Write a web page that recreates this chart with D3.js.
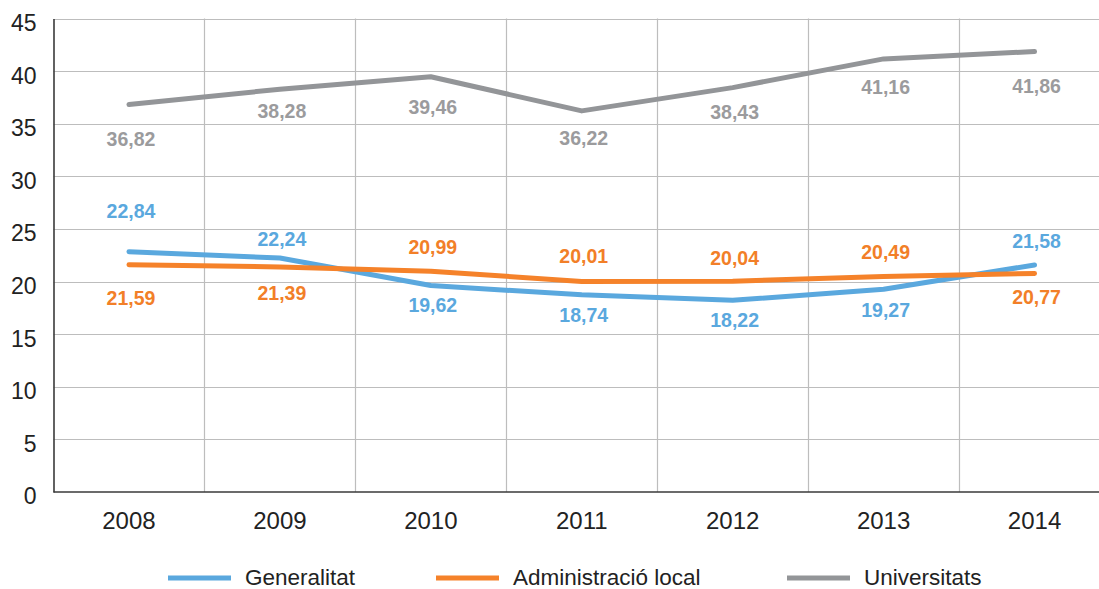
<!DOCTYPE html>
<html>
<head>
<meta charset="utf-8">
<script src="https://cdn.jsdelivr.net/npm/d3@7/dist/d3.min.js"></script>
<style>
  html, body { margin: 0; padding: 0; background: #fff; }
  svg { display: block; font-family: "Liberation Sans", Arial, Helvetica, sans-serif; }
</style>
</head>
<body>
<svg id="chart" width="1099" height="589"></svg>
<script>
// Years on the category axis
const years = ["2008", "2009", "2010", "2011", "2012", "2013", "2014"];

// Series values (percent)
const generalitat = [22.84, 22.24, 19.62, 18.74, 18.22, 19.27, 21.58];
const administracioLocal = [21.59, 21.39, 20.99, 20.01, 20.04, 20.49, 20.77];
const universitats = [36.82, 38.28, 39.46, 36.22, 38.43, 41.16, 41.86];

// Y axis ticks
const yTicks = [0, 5, 10, 15, 20, 25, 30, 35, 40, 45];

// Vertical offset of each value label from its point (px)
const labelOffsets = {
  generalitat: [-41, -19, 19, 20, 20, 21, -24],
  administracioLocal: [33, 26, -24, -25, -23, -24, 24],
  universitats: [34, 22, 30, 27, 24, 28, 34]
};

const series = [
  { key: "generalitat", name: "Generalitat", values: generalitat, color: "#5aa8de", text: "#5aa8de" },
  { key: "administracioLocal", name: "Administració local", values: administracioLocal, color: "#f5822a", text: "#f27f28" },
  { key: "universitats", name: "Universitats", values: universitats, color: "#939598", text: "#9b9b9d" }
];

const svg = d3.select("#chart");

const x = d3.scaleBand().domain(years).range([53.5, 1110]).paddingInner(0).paddingOuter(0);
const y = d3.scaleLinear().domain([0, 45]).range([492, 18.5]);
const cx = d => x(d) + x.bandwidth() / 2;

// Horizontal grid
svg.append("g")
  .selectAll("line")
  .data(yTicks.filter(t => t > 0))
  .join("line")
  .attr("x1", 53.5).attr("x2", 1099)
  .attr("y1", d => Math.round(y(d)) + 0.5).attr("y2", d => Math.round(y(d)) + 0.5)
  .attr("stroke", "#bdbdbd").attr("stroke-width", 1.2);

// Vertical grid at the category boundaries
svg.append("g")
  .selectAll("line")
  .data(years.slice(1))
  .join("line")
  .attr("x1", d => Math.round(x(d)) + 0.5).attr("x2", d => Math.round(x(d)) + 0.5)
  .attr("y1", y(45)).attr("y2", y(0))
  .attr("stroke", "#bdbdbd").attr("stroke-width", 1.2);

// Y axis
const yAxis = svg.append("g")
  .attr("transform", "translate(53.5,0)")
  .call(d3.axisLeft(y).tickValues(yTicks).tickSize(0).tickPadding(17).tickFormat(d3.format("d")));
yAxis.select(".domain").attr("stroke", "#3a3a3a").attr("stroke-width", 1.6);
yAxis.selectAll("text")
  .attr("fill", "#222").attr("font-size", 23).attr("dy", "0.52em")
  .attr("font-family", "\"Liberation Sans\", Arial, sans-serif");

// X axis
const xAxis = svg.append("g")
  .attr("transform", "translate(0,492)")
  .call(d3.axisBottom(x).tickSize(0).tickPadding(20));
xAxis.select(".domain").attr("stroke", "#3a3a3a").attr("stroke-width", 1.6).attr("d", "M53.5,0H1099");
xAxis.selectAll("text")
  .attr("fill", "#222").attr("font-size", 24)
  .attr("font-family", "\"Liberation Sans\", Arial, sans-serif");

// Lines
const line = d3.line()
  .x((d, i) => cx(years[i]))
  .y(d => y(d))
  .curve(d3.curveLinear);

svg.append("g")
  .selectAll("path")
  .data(series)
  .join("path")
  .attr("d", s => line(s.values))
  .attr("fill", "none")
  .attr("stroke", s => s.color)
  .attr("stroke-width", 5)
  .attr("stroke-linecap", "round")
  .attr("stroke-linejoin", "round");

// Value labels
const fmt = v => d3.format(".2f")(v).replace(".", ",");
series.forEach(s => {
  svg.append("g")
    .selectAll("text")
    .data(s.values)
    .join("text")
    .attr("x", (d, i) => cx(years[i]) + 2)
    .attr("y", (d, i) => y(d) + labelOffsets[s.key][i])
    .attr("dy", "0.36em")
    .attr("text-anchor", "middle")
    .attr("font-size", 19.5)
    .attr("font-weight", "bold")
    .attr("fill", s.text)
    .text(d => fmt(d));
});

// Legend
const legendX = [168, 436, 787];
const legend = svg.append("g")
  .selectAll("g")
  .data(series)
  .join("g")
  .attr("transform", (s, i) => `translate(${legendX[i]},576)`);
legend.append("line")
  .attr("x1", 0).attr("x2", 63).attr("y1", 2).attr("y2", 2)
  .attr("stroke", s => s.color).attr("stroke-width", 5);
legend.append("text")
  .attr("x", 77).attr("dy", "0.38em")
  .attr("font-size", 22.5).attr("fill", "#222")
  .text(s => s.name);
</script>
</body>
</html>
